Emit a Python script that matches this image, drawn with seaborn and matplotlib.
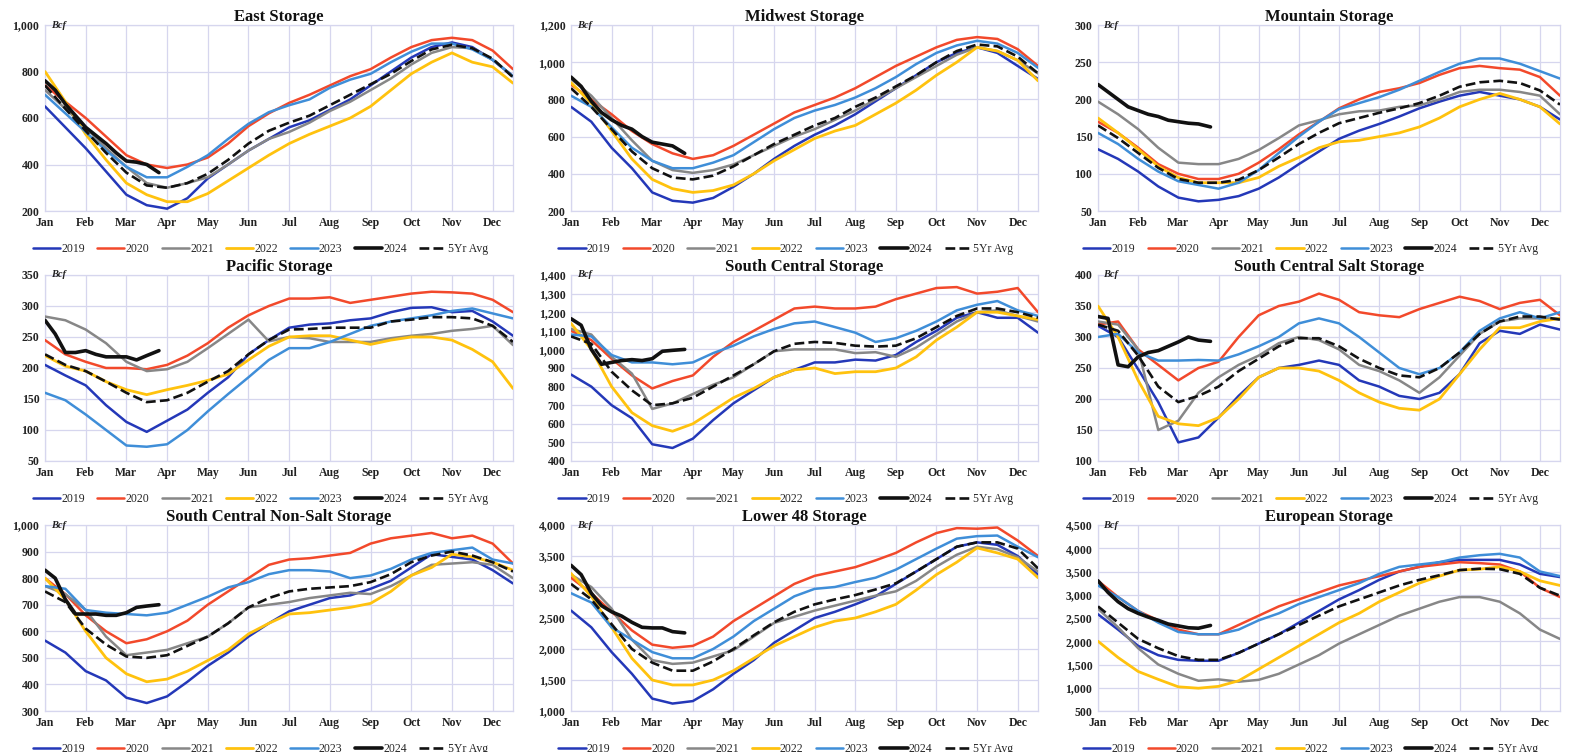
import numpy as np
import pandas as pd
import matplotlib
matplotlib.use("Agg")
import matplotlib.pyplot as plt
from matplotlib.lines import Line2D
import seaborn as sns

# ---------------- data ----------------
MONTHS = ["Jan", "Feb", "Mar", "Apr", "May", "Jun", "Jul", "Aug", "Sep", "Oct", "Nov", "Dec"]
SERIES = ["2019", "2020", "2021", "2022", "2023", "2024", "5Yr Avg"]
# semi-monthly sample positions (in months from Jan 1) and weekly-ish positions for 2024
X_HALF = [0, 0.5, 1, 1.5, 2, 2.5, 3, 3.5, 4, 4.5, 5, 5.5, 6, 6.5, 7, 7.5, 8, 8.5, 9, 9.5, 10, 10.5, 11, 11.5]
X_2024 = [0, 0.25, 0.5, 0.75, 1, 1.25, 1.5, 1.75, 2, 2.25, 2.5, 2.8]

EAST_2019 = [650, 560, 470, 370, 270, 225, 210, 255, 340, 400, 460, 510, 560, 590, 635, 680, 740, 800, 860, 905, 925, 905, 850, 780]
EAST_2020 = [740, 670, 600, 520, 440, 400, 385, 400, 430, 490, 565, 620, 665, 700, 740, 780, 810, 860, 905, 935, 945, 935, 890, 810]
EAST_2021 = [720, 640, 560, 470, 390, 320, 300, 320, 345, 400, 460, 510, 540, 580, 630, 670, 720, 770, 830, 880, 905, 900, 850, 780]
EAST_2022 = [800, 670, 530, 420, 320, 270, 240, 240, 275, 330, 385, 440, 490, 530, 565, 600, 650, 720, 790, 840, 880, 840, 820, 750]
EAST_2023 = [700, 620, 540, 460, 390, 345, 345, 390, 440, 510, 575, 625, 655, 680, 730, 765, 790, 840, 885, 920, 920, 895, 850, 780]
EAST_2024 = [760, 720, 660, 610, 560, 525, 490, 450, 415, 410, 400, 365]
EAST_AVG = [740, 640, 545, 450, 365, 310, 300, 320, 360, 420, 490, 545, 580, 610, 655, 700, 745, 790, 845, 895, 915, 900, 855, 775]

MIDW_2019 = [760, 680, 540, 430, 300, 255, 245, 270, 330, 400, 480, 550, 610, 660, 720, 790, 860, 930, 1000, 1050, 1080, 1050, 980, 910]
MIDW_2020 = [880, 800, 720, 630, 560, 510, 480, 500, 550, 610, 670, 730, 770, 810, 860, 920, 980, 1030, 1080, 1120, 1135, 1125, 1070, 980]
MIDW_2021 = [910, 820, 700, 580, 470, 420, 405, 420, 450, 500, 550, 600, 640, 690, 740, 800, 860, 920, 980, 1040, 1080, 1060, 1010, 940]
MIDW_2022 = [890, 780, 630, 480, 370, 320, 300, 310, 340, 400, 470, 530, 590, 630, 660, 720, 780, 850, 930, 1000, 1080, 1060, 1010, 900]
MIDW_2023 = [820, 760, 650, 540, 470, 430, 430, 460, 500, 570, 640, 700, 740, 770, 810, 860, 920, 990, 1050, 1090, 1115, 1100, 1050, 970]
MIDW_2024 = [920, 870, 790, 730, 690, 660, 640, 600, 570, 560, 550, 510]
MIDW_AVG = [860, 760, 640, 520, 430, 380, 370, 390, 440, 500, 560, 610, 660, 700, 760, 810, 870, 930, 1000, 1060, 1095, 1085, 1030, 940]

MOUN_2019 = [133, 120, 103, 83, 68, 63, 65, 70, 80, 95, 113, 130, 147, 158, 167, 177, 188, 197, 205, 210, 205, 200, 190, 173]
MOUN_2020 = [170, 155, 135, 113, 100, 93, 93, 100, 115, 133, 153, 170, 188, 200, 210, 215, 222, 233, 242, 245, 242, 240, 230, 205]
MOUN_2021 = [197, 180, 160, 135, 115, 113, 113, 120, 132, 148, 165, 172, 180, 184, 185, 190, 192, 200, 210, 213, 213, 210, 205, 180]
MOUN_2022 = [175, 155, 133, 110, 95, 88, 88, 88, 95, 110, 122, 135, 143, 145, 150, 155, 163, 175, 190, 200, 208, 200, 190, 167]
MOUN_2023 = [155, 140, 120, 103, 90, 85, 80, 88, 105, 128, 150, 170, 187, 195, 203, 213, 225, 237, 248, 255, 255, 248, 238, 228]
MOUN_2024 = [220, 210, 200, 190, 185, 180, 177, 172, 170, 168, 167, 163]
MOUN_AVG = [165, 148, 128, 108, 93, 88, 88, 92, 105, 122, 140, 155, 168, 175, 182, 188, 195, 205, 217, 223, 225, 222, 212, 193]

PACI_2019 = [205, 188, 172, 140, 113, 97, 115, 133, 160, 185, 222, 245, 265, 270, 272, 277, 280, 290, 297, 298, 290, 292, 275, 252]
PACI_2020 = [245, 222, 210, 200, 200, 198, 205, 220, 240, 265, 285, 300, 312, 312, 314, 305, 310, 315, 320, 323, 322, 320, 310, 290]
PACI_2021 = [283, 277, 262, 240, 210, 195, 198, 210, 232, 255, 278, 243, 250, 248, 242, 242, 242, 248, 252, 255, 260, 263, 268, 237]
PACI_2022 = [220, 203, 195, 178, 165, 157, 165, 172, 180, 190, 213, 235, 250, 252, 252, 245, 238, 245, 250, 250, 245, 230, 210, 167]
PACI_2023 = [160, 148, 125, 100, 75, 73, 77, 100, 130, 158, 185, 213, 232, 232, 242, 255, 268, 275, 280, 285, 292, 296, 288, 280]
PACI_2024 = [277, 255, 225, 225, 228, 222, 218, 218, 218, 213, 220, 228]
PACI_AVG = [222, 205, 195, 178, 160, 145, 148, 160, 178, 195, 222, 245, 262, 263, 265, 265, 265, 275, 278, 282, 282, 280, 268, 242]

SC_2019 = [865, 800, 700, 630, 490, 470, 520, 620, 710, 780, 850, 890, 930, 930, 945, 940, 970, 1040, 1100, 1170, 1200, 1170, 1170, 1090]
SC_2020 = [1100, 1050, 950, 860, 790, 830, 860, 960, 1040, 1100, 1160, 1220, 1230, 1220, 1220, 1230, 1270, 1300, 1330, 1335, 1300, 1310, 1330, 1200]
SC_2021 = [1110, 1080, 960, 870, 680, 710, 760, 810, 850, 920, 990, 1000, 1000, 1000, 980, 985, 960, 1010, 1080, 1150, 1200, 1210, 1180, 1150]
SC_2022 = [1140, 1000, 800, 660, 590, 560, 600, 670, 740, 790, 850, 890, 900, 870, 880, 880, 900, 960, 1050, 1120, 1200, 1200, 1180, 1160]
SC_2023 = [1080, 1070, 970, 930, 930, 920, 930, 980, 1020, 1070, 1110, 1140, 1150, 1120, 1090, 1040, 1060, 1100, 1150, 1210, 1240, 1260, 1210, 1180]
SC_2024 = [1165, 1130, 1000, 920, 930, 940, 945, 940, 950, 990, 995, 1000]
SC_AVG = [1070, 1030, 880, 780, 700, 710, 740, 800, 860, 920, 990, 1030, 1040, 1035, 1020, 1015, 1020, 1060, 1120, 1180, 1220, 1220, 1200, 1170]

SALT_2019 = [318, 300, 248, 195, 130, 138, 170, 205, 235, 250, 255, 262, 255, 230, 220, 205, 200, 210, 240, 290, 310, 305, 320, 312]
SALT_2020 = [320, 325, 280, 255, 230, 250, 260, 300, 335, 350, 357, 370, 360, 340, 335, 332, 345, 355, 365, 358, 345, 355, 360, 335]
SALT_2021 = [325, 320, 280, 150, 165, 210, 235, 255, 270, 290, 300, 295, 280, 255, 245, 230, 210, 235, 270, 305, 325, 330, 330, 330]
SALT_2022 = [350, 300, 230, 172, 160, 157, 170, 200, 235, 250, 250, 245, 230, 210, 195, 185, 182, 200, 240, 280, 315, 315, 325, 330]
SALT_2023 = [300, 305, 275, 262, 262, 263, 262, 272, 285, 300, 322, 330, 322, 300, 275, 250, 240, 250, 275, 310, 330, 340, 330, 340]
SALT_2024 = [333, 330, 255, 252, 268, 275, 278, 285, 292, 300, 295, 293]
SALT_AVG = [320, 310, 270, 220, 195, 205, 220, 245, 265, 285, 298, 298, 285, 265, 250, 238, 235, 250, 275, 305, 325, 333, 333, 328]

NONS_2019 = [565, 520, 450, 415, 350, 330, 355, 410, 470, 520, 580, 630, 675, 700, 725, 735, 760, 790, 840, 890, 880, 870, 830, 780]
NONS_2020 = [800, 740, 660, 600, 555, 570, 600, 640, 700, 750, 800, 850, 870, 875, 885, 895, 930, 950, 960, 970, 950, 960, 930, 855]
NONS_2021 = [770, 740, 680, 580, 510, 520, 530, 555, 580, 630, 690, 700, 710, 725, 735, 745, 740, 770, 810, 850, 855, 860, 850, 800]
NONS_2022 = [800, 720, 600, 500, 440, 410, 420, 450, 490, 530, 590, 630, 665, 670, 680, 690, 705, 750, 810, 840, 890, 880, 860, 830]
NONS_2023 = [770, 760, 680, 670, 665, 660, 670, 700, 730, 765, 785, 815, 830, 830, 825, 800, 810, 835, 870, 895, 905, 915, 870, 855]
NONS_2024 = [830, 800, 720, 665, 665, 665, 660, 660, 670, 690, 695, 700]
NONS_AVG = [750, 710, 610, 550, 505, 500, 510, 545, 580, 630, 690, 725, 750, 760, 765, 770, 785, 815, 860, 885, 900, 885, 860, 825]

L48_2019 = [2620, 2350, 1950, 1600, 1200, 1120, 1160, 1350, 1600, 1820, 2100, 2300, 2500, 2600, 2720, 2850, 3050, 3250, 3450, 3650, 3720, 3680, 3500, 3200]
L48_2020 = [3150, 2900, 2600, 2300, 2070, 2020, 2050, 2200, 2450, 2650, 2850, 3050, 3180, 3250, 3320, 3430, 3550, 3720, 3870, 3950, 3940, 3960, 3750, 3500]
L48_2021 = [3200, 3000, 2650, 2150, 1820, 1760, 1780, 1880, 1980, 2200, 2420, 2520, 2620, 2700, 2780, 2860, 2930, 3100, 3330, 3520, 3650, 3610, 3480, 3250]
L48_2022 = [3220, 2850, 2350, 1850, 1500, 1420, 1420, 1500, 1650, 1850, 2050, 2200, 2350, 2450, 2500, 2600, 2720, 2950, 3200, 3400, 3630, 3550, 3450, 3150]
L48_2023 = [2900, 2750, 2350, 2150, 1950, 1850, 1850, 2000, 2200, 2450, 2650, 2850, 2970, 3000, 3080, 3150, 3280, 3450, 3620, 3780, 3820, 3830, 3650, 3480]
L48_2024 = [3350, 3200, 2900, 2700, 2600, 2530, 2430, 2350, 2340, 2340, 2280, 2260]
L48_AVG = [3050, 2800, 2400, 2000, 1780, 1650, 1650, 1800, 2000, 2220, 2430, 2600, 2720, 2800, 2870, 2960, 3060, 3250, 3450, 3650, 3720, 3720, 3620, 3300]

EU_2019 = [2580, 2250, 1900, 1700, 1600, 1580, 1580, 1750, 1950, 2150, 2400, 2650, 2900, 3100, 3320, 3500, 3600, 3700, 3750, 3750, 3750, 3650, 3450, 3380]
EU_2020 = [3300, 2950, 2650, 2450, 2250, 2150, 2150, 2350, 2550, 2750, 2900, 3050, 3200, 3300, 3400, 3500, 3600, 3650, 3700, 3680, 3650, 3500, 3150, 2950]
EU_2021 = [2700, 2300, 1850, 1500, 1300, 1150, 1180, 1130, 1170, 1300, 1500, 1700, 1950, 2150, 2350, 2550, 2700, 2850, 2950, 2950, 2850, 2600, 2250, 2050]
EU_2022 = [2000, 1650, 1350, 1180, 1020, 990, 1030, 1150, 1400, 1650, 1900, 2150, 2400, 2600, 2850, 3050, 3250, 3400, 3530, 3550, 3600, 3500, 3300, 3200]
EU_2023 = [3200, 2950, 2650, 2400, 2200, 2150, 2150, 2250, 2450, 2600, 2800, 2950, 3100, 3250, 3450, 3600, 3650, 3700, 3800, 3850, 3880, 3800, 3500, 3400]
EU_2024 = [3300, 3050, 2850, 2700, 2600, 2520, 2450, 2370, 2330, 2290, 2280, 2340]
EU_AVG = [2750, 2400, 2050, 1850, 1680, 1600, 1600, 1750, 1950, 2150, 2350, 2550, 2750, 2900, 3050, 3200, 3320, 3420, 3530, 3560, 3550, 3450, 3150, 2980]

PANELS = [
    ("East Storage", [EAST_2019, EAST_2020, EAST_2021, EAST_2022, EAST_2023, EAST_2024, EAST_AVG], (200, 1000, 200)),
    ("Midwest Storage", [MIDW_2019, MIDW_2020, MIDW_2021, MIDW_2022, MIDW_2023, MIDW_2024, MIDW_AVG], (200, 1200, 200)),
    ("Mountain Storage", [MOUN_2019, MOUN_2020, MOUN_2021, MOUN_2022, MOUN_2023, MOUN_2024, MOUN_AVG], (50, 300, 50)),
    ("Pacific Storage", [PACI_2019, PACI_2020, PACI_2021, PACI_2022, PACI_2023, PACI_2024, PACI_AVG], (50, 350, 50)),
    ("South Central Storage", [SC_2019, SC_2020, SC_2021, SC_2022, SC_2023, SC_2024, SC_AVG], (400, 1400, 100)),
    ("South Central Salt Storage", [SALT_2019, SALT_2020, SALT_2021, SALT_2022, SALT_2023, SALT_2024, SALT_AVG], (100, 400, 50)),
    ("South Central Non-Salt Storage", [NONS_2019, NONS_2020, NONS_2021, NONS_2022, NONS_2023, NONS_2024, NONS_AVG], (300, 1000, 100)),
    ("Lower 48 Storage", [L48_2019, L48_2020, L48_2021, L48_2022, L48_2023, L48_2024, L48_AVG], (1000, 4000, 500)),
    ("European Storage", [EU_2019, EU_2020, EU_2021, EU_2022, EU_2023, EU_2024, EU_AVG], (500, 4500, 500)),
]

# ---------------- style ----------------
COLORS = ["#2438b8", "#f2492b", "#878787", "#ffc20e", "#3f8ed8", "#111111", "#111111"]
WIDTHS = [1.8, 1.8, 1.8, 2.0, 1.8, 2.6, 1.9]
STYLES = ["-", "-", "-", "-", "-", "-", "--"]
GRID = "#d6d6ee"

sns.set_style("white")
plt.rcParams["font.family"] = ["Liberation Serif", "DejaVu Serif"]

W, H = 1578, 752
fig = plt.figure(figsize=(W / 100, H / 100), dpi=100)

col_left = [45, 571, 1098]
col_right = [513, 1038, 1560]
row_top = [25, 275, 525]
AX_H = 186

for idx, (title, vals, (ymin, ymax, ystep)) in enumerate(PANELS):
    r, c = divmod(idx, 3)
    left = col_left[c] / W
    width = (col_right[c] - col_left[c]) / W
    bottom = 1 - (row_top[r] + AX_H) / H
    ax = fig.add_axes([left, bottom, width, AX_H / H])

    frames = []
    for name, v in zip(SERIES, vals):
        xs = X_2024 if name == "2024" else X_HALF
        frames.append(pd.DataFrame({"x": xs, "y": v, "series": name}))
    df = pd.concat(frames, ignore_index=True)

    for name, col, lw, ls in zip(SERIES, COLORS, WIDTHS, STYLES):
        sub = df[df["series"] == name]
        sns.lineplot(data=sub, x="x", y="y", ax=ax, color=col, linewidth=lw,
                     linestyle=ls, legend=False, zorder=5 if name in ("2024", "5Yr Avg") else 3)

    ax.set_xlim(0, 11.5)
    ax.set_ylim(ymin, ymax)
    ax.set_xticks(range(12))
    ax.set_xticklabels(MONTHS)
    yt = np.arange(ymin, ymax + ystep / 2, ystep)
    ax.set_yticks(yt)
    ax.set_yticklabels([f"{int(t):,}" for t in yt])
    ax.tick_params(length=0, labelsize=8.5, pad=4, colors="#222222")
    for lab in ax.get_xticklabels() + ax.get_yticklabels():
        lab.set_fontweight("bold")
    ax.grid(True, color=GRID, linewidth=0.9)
    ax.set_axisbelow(True)
    for sp in ax.spines.values():
        sp.set_color(GRID)
        sp.set_linewidth(0.9)
    ax.set_xlabel("")
    ax.set_ylabel("")
    ax.set_title(title, fontsize=12, fontweight="bold", pad=3, color="#111111")
    ax.text(0.012, 1.0, "Bcf", transform=ax.transAxes, fontsize=7.5, fontstyle="italic",
            fontweight="bold", va="center", ha="left", color="#222222")

    handles = [Line2D([0], [0], color=col, lw=lw, ls=ls) for col, lw, ls in zip(COLORS, WIDTHS, STYLES)]
    ax.legend(handles, SERIES, ncol=7, loc="upper center", bbox_to_anchor=(0.46, -0.145),
              frameon=False, fontsize=8.5, handlelength=2.3, columnspacing=1.05,
              handletextpad=0.1, borderaxespad=0)

fig.savefig("out.png", dpi=100, facecolor="white")
